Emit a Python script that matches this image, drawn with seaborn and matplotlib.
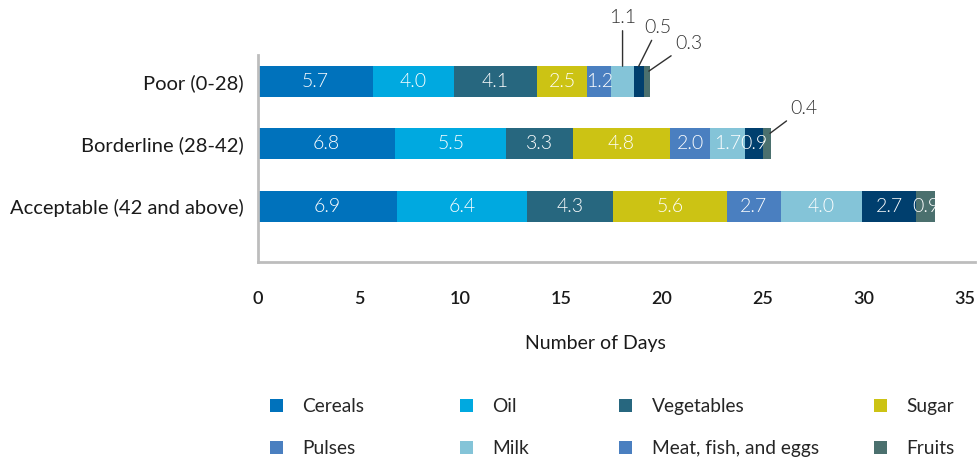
import numpy as np
import pandas as pd
import seaborn as sns
import matplotlib.pyplot as plt
from matplotlib.patches import Patch

# Food consumption score groups and days per food group
categories = ['Poor (0-28)', 'Borderline (28-42)', 'Acceptable (42 and above)']
groups = ['Cereals', 'Oil', 'Vegetables', 'Sugar', 'Pulses', 'Milk', 'Meat, fish, and eggs', 'Fruits']
cereals = [5.7, 6.8, 6.9]
oil = [4.0, 5.5, 6.4]
vegetables = [4.1, 3.3, 4.3]
sugar = [2.5, 4.8, 5.6]
pulses = [1.2, 2.0, 2.7]
milk = [1.1, 1.7, 4.0]
meat = [0.5, 0.9, 2.7]
fruits = [0.3, 0.4, 0.9]
xticks = [0, 5, 10, 15, 20, 25, 30, 35]

colors = ['#0072BC', '#00A9E0', '#27677F', '#CCC314', '#4A7FC0', '#84C4D8', '#003F6E', '#4B706E']
# the original legend shows meat with the pulses swatch
legend_colors = ['#0072BC', '#00A9E0', '#27677F', '#CCC314', '#4A7FC0', '#84C4D8', '#4A7FC0', '#4B706E']

values = np.array([cereals, oil, vegetables, sugar, pulses, milk, meat, fruits])
cum = values.cumsum(axis=0)

sns.set_theme(style='white')
plt.rcParams['font.family'] = ['Lato', 'DejaVu Sans']

fig = plt.figure(figsize=(9.79, 4.59), dpi=100)
ax = fig.add_axes([258 / 979, 1 - 262 / 459, 717 / 979, 207 / 459])

# stacked bars: draw cumulative totals back to front
for i in range(len(groups) - 1, -1, -1):
    df = pd.DataFrame({'Category': categories, 'Days': cum[i]})
    sns.barplot(data=df, x='Days', y='Category', color=colors[i], width=0.5,
                saturation=1, linewidth=0, ax=ax, orient='h')

# labels inside the segments, callouts for the tiny ones
callouts = {
    (5, 0): ('top', (0, 35)),
    (6, 0): ('top', (14, 28)),
    (7, 0): ('right', (29, 20)),
    (7, 1): ('right', (24, 18)),
}
for i, g in enumerate(groups):
    for j in range(len(categories)):
        v = values[i, j]
        start = cum[i, j] - v
        if (i, j) in callouts:
            where, off = callouts[(i, j)]
            if where == 'top':
                xy = (start + v / 2, j - 0.25)
            else:
                xy = (cum[i, j] - 0.05, j - 0.17)
            ax.annotate(f'{v:.1f}', xy=xy, xytext=off, textcoords='offset points',
                        ha='center', va='center', fontsize=14, fontweight=300,
                        color='#333333', annotation_clip=False,
                        arrowprops=dict(arrowstyle='-', color='#303030', lw=1,
                                        shrinkA=1, shrinkB=0))
        else:
            ax.text(start + v / 2, j, f'{v:.1f}', ha='center', va='center',
                    fontsize=14, fontweight=300, color='white', zorder=5)

ax.set_xlim(0, 35.5)
ax.set_ylim(2.9, -0.43)
ax.set_xticks(xticks)
ax.set_xticklabels([str(t) for t in xticks], fontsize=13, fontweight='semibold', color='#1a1a1a')
ax.tick_params(axis='x', length=0, pad=21)
ax.tick_params(axis='y', length=0, pad=10, labelsize=14.5, labelcolor='#1a1a1a')
ax.set_ylabel('')
ax.set_xlabel('Number of Days', fontsize=14, color='#1a1a1a')
ax.xaxis.set_label_coords(0.47, -0.395)
ax.xaxis.label.set_va('center')

for s in ['top', 'right']:
    ax.spines[s].set_visible(False)
for s in ['left', 'bottom']:
    ax.spines[s].set_color('#BDBDBD')
    ax.spines[s].set_linewidth(2)

# legend laid out in four columns like the original
col_x = [270, 460, 619, 874]
for c in range(4):
    idx = [c, c + 4]
    handles = [Patch(facecolor=legend_colors[k], edgecolor='none') for k in idx]
    fig.legend(handles, [groups[k] for k in idx], loc='center left',
               bbox_to_anchor=(col_x[c] / 979, 1 - 427.5 / 459), frameon=False,
               fontsize=13.8, handlelength=0.7, handleheight=0.7,
               handletextpad=1.0, labelspacing=1.3, borderpad=0, borderaxespad=0)

fig.savefig('out.png', dpi=100)
